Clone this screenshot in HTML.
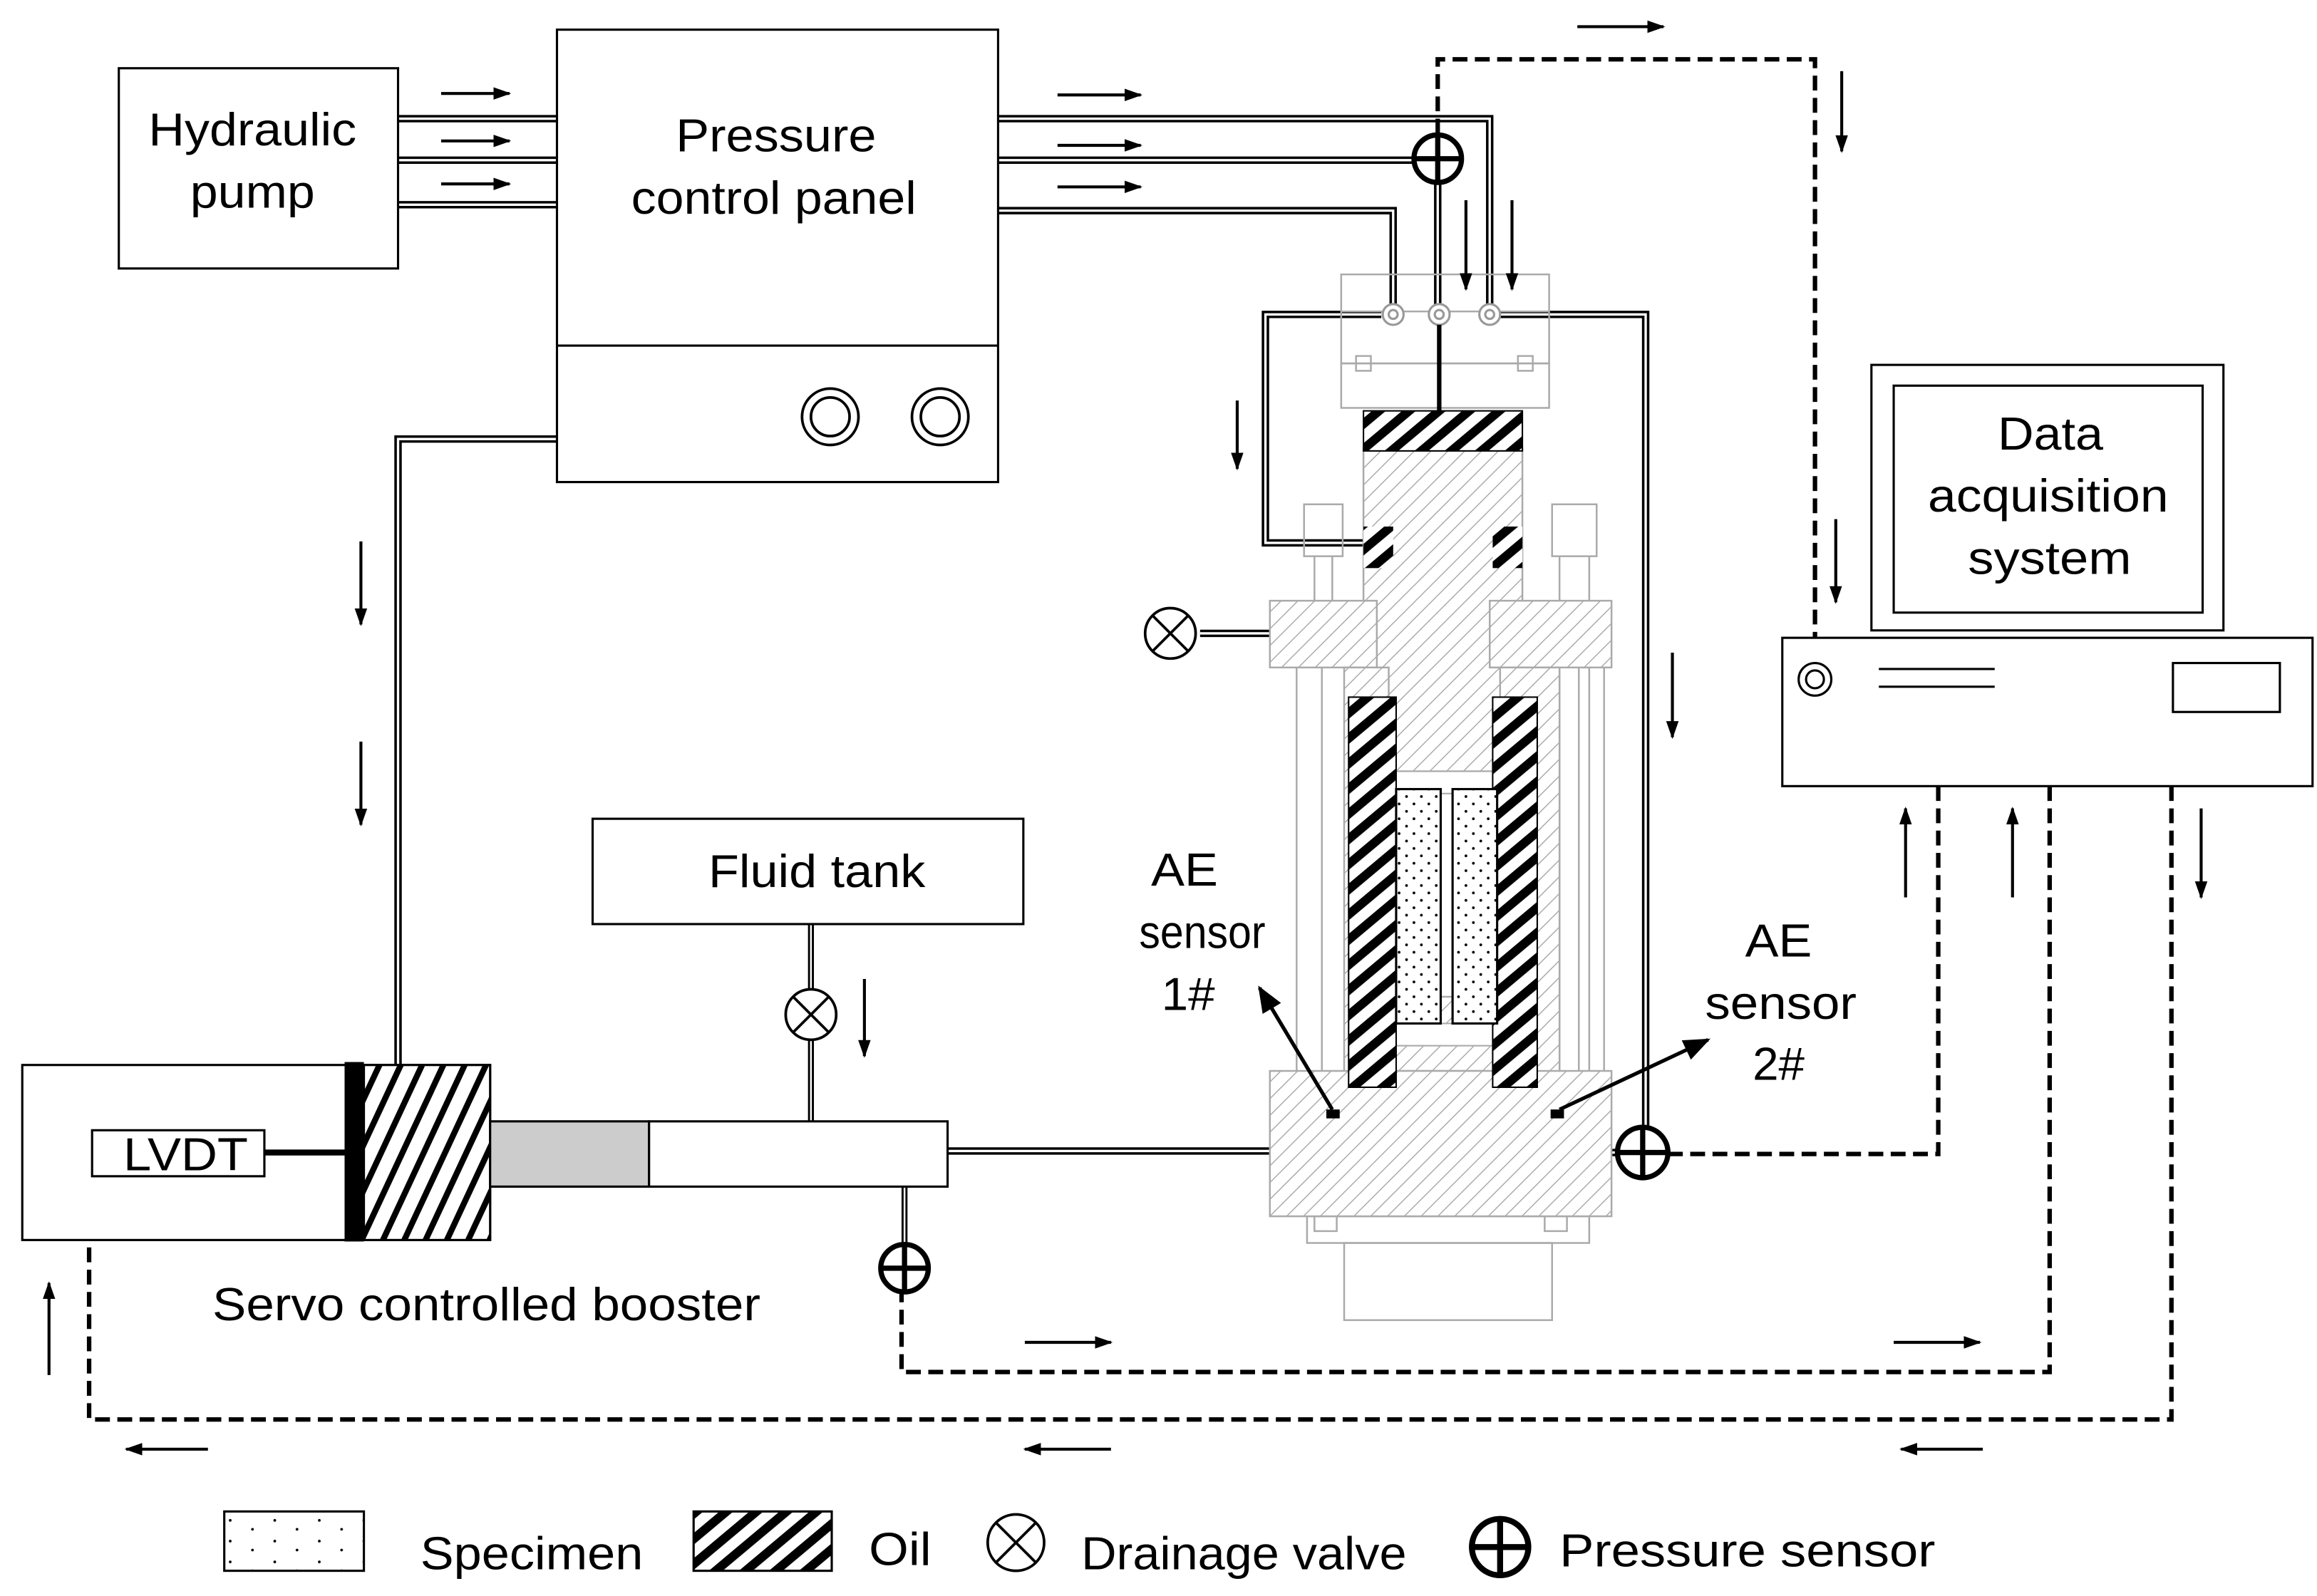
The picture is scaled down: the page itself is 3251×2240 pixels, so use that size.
<!DOCTYPE html>
<html><head><meta charset="utf-8"><style>
html,body{margin:0;padding:0;background:#fff;}
svg{display:block;}
text{font-family:"Liberation Sans",Arial,sans-serif;fill:#000;}
</style></head><body>
<svg width="3251" height="2240" viewBox="0 0 1560 1076" preserveAspectRatio="none" xmlns="http://www.w3.org/2000/svg">
<defs>
<marker id="ah" viewBox="0 0 10 10" refX="9" refY="5" markerWidth="12" markerHeight="12" orient="auto" markerUnits="userSpaceOnUse"><path d="M0,1.5 L10,5 L0,8.5 z" fill="#000"/></marker>
<marker id="ahb" viewBox="0 0 10 10" refX="9" refY="5" markerWidth="18" markerHeight="18" orient="auto" markerUnits="userSpaceOnUse"><path d="M0,1 L10,5 L0,9 z" fill="#000"/></marker>
<pattern id="oil" width="13" height="13" patternUnits="userSpaceOnUse" patternTransform="rotate(50)"><rect width="13" height="13" fill="#fff"/><rect x="0" y="0" width="6" height="13" fill="#000"/></pattern>
<pattern id="thin" width="13" height="13" patternUnits="userSpaceOnUse" patternTransform="rotate(25)"><rect width="13" height="13" fill="#fff"/><rect x="0" y="0" width="4" height="13" fill="#000"/></pattern>
<pattern id="lh" width="8" height="8" patternUnits="userSpaceOnUse" patternTransform="rotate(45)"><rect width="8" height="8" fill="#fff"/><rect x="0" y="0" width="0.7" height="8" fill="#aaa"/></pattern>
<pattern id="dots" width="10" height="10" patternUnits="userSpaceOnUse"><rect width="10" height="10" fill="#fff"/><circle cx="2" cy="2" r="0.9" fill="#000"/><circle cx="7" cy="7" r="0.9" fill="#000"/></pattern>
<pattern id="dots2" width="30" height="14" patternUnits="userSpaceOnUse"><rect width="30" height="14" fill="#fff"/><circle cx="5" cy="3" r="0.9" fill="#000"/><circle cx="20" cy="9" r="0.9" fill="#000"/></pattern>
</defs>
<rect width="1560" height="1076" fill="#fff"/>

<g fill="none" stroke-linejoin="miter">
<g stroke="#000" stroke-width="5">
<path d="M268,80 H375 M268,108 H375 M268,138 H375"/>
<path d="M672,80 H1003 V210 M672,108 H968 V210 M672,142 H938 V205"/>
<path d="M375,296 H268 V720"/>
<path d="M930,212 H852 V366 H920"/>
<path d="M1010,212 H1108 V777"/>
<path d="M808,427 H925 V470"/>
<path d="M638,776 H975 V690"/>
<path d="M1017,700 V777 H1090"/>
</g>
<g stroke="#fff" stroke-width="1.6">
<path d="M268,80 H375 M268,108 H375 M268,138 H375"/>
<path d="M672,80 H1003 V210 M672,108 H968 V210 M672,142 H938 V205"/>
<path d="M375,296 H268 V720"/>
<path d="M930,212 H852 V366 H920"/>
<path d="M1010,212 H1108 V777"/>
<path d="M808,427 H925 V470"/>
<path d="M638,776 H975 V690"/>
<path d="M1017,700 V777 H1090"/>
</g>
<path d="M546,623 V756 M609,800 V838" stroke="#000" stroke-width="4"/>
<path d="M546,623 V756 M609,800 V838" stroke="#fff" stroke-width="1.2"/>
</g>

<rect x="80" y="46" width="188" height="135" fill="#fff" stroke="#000" stroke-width="1.5"/>
<text x="100" y="98" font-size="31" textLength="140" lengthAdjust="spacingAndGlyphs">Hydraulic</text>
<text x="128" y="140" font-size="31" textLength="84" lengthAdjust="spacingAndGlyphs">pump</text>
<rect x="375" y="20" width="297" height="305" fill="#fff" stroke="#000" stroke-width="1.5"/>
<line x1="375" y1="233" x2="672" y2="233" stroke="#000" stroke-width="1.5"/>
<text x="455" y="102" font-size="31" textLength="135" lengthAdjust="spacingAndGlyphs">Pressure</text>
<text x="425" y="144" font-size="31" textLength="192" lengthAdjust="spacingAndGlyphs">control panel</text>
<g fill="none" stroke="#000" stroke-width="1.8">
<circle cx="559" cy="281" r="19"/><circle cx="559" cy="281" r="13"/>
<circle cx="633" cy="281" r="19"/><circle cx="633" cy="281" r="13"/>
</g>

<g fill="none" stroke="#aaa" stroke-width="1.2">
<rect x="903" y="185" width="140" height="60"/>
<line x1="903" y1="210" x2="1043" y2="210"/>
<rect x="913" y="240" width="10" height="10"/><rect x="1022" y="240" width="10" height="10"/>
<rect x="903" y="245" width="140" height="30"/>
<rect x="878" y="340" width="26" height="35"/><rect x="1045" y="340" width="30" height="35"/>
<line x1="885" y1="375" x2="885" y2="420"/><line x1="897" y1="375" x2="897" y2="420"/>
<line x1="1050" y1="375" x2="1050" y2="780"/><line x1="1070" y1="375" x2="1070" y2="780"/>
<line x1="873" y1="450" x2="873" y2="760"/><line x1="890" y1="450" x2="890" y2="760"/>
<line x1="1063" y1="450" x2="1063" y2="760"/><line x1="1080" y1="450" x2="1080" y2="760"/>
<rect x="880" y="820" width="190" height="18"/>
<rect x="905" y="838" width="140" height="52"/>
<rect x="885" y="805" width="15" height="25"/><rect x="1040" y="805" width="15" height="25"/>
</g>
<rect x="918" y="302" width="107" height="218" fill="url(#lh)" stroke="#aaa" stroke-width="1.2"/>
<rect x="855" y="405" width="72" height="45" fill="url(#lh)" stroke="#aaa" stroke-width="1.2"/>
<rect x="1003" y="405" width="82" height="45" fill="url(#lh)" stroke="#aaa" stroke-width="1.2"/>
<rect x="905" y="450" width="30" height="310" fill="url(#lh)" stroke="#aaa" stroke-width="1.2"/>
<rect x="1010" y="450" width="40" height="310" fill="url(#lh)" stroke="#aaa" stroke-width="1.2"/>
<rect x="938" y="672" width="70" height="50" fill="url(#lh)" stroke="#aaa" stroke-width="1.2"/>
<rect x="855" y="722" width="230" height="98" fill="url(#lh)" stroke="#aaa" stroke-width="1.2"/>
<rect x="940" y="520" width="68" height="15" fill="#fff" stroke="#aaa" stroke-width="1"/>
<rect x="940" y="690" width="68" height="15" fill="#fff" stroke="#aaa" stroke-width="1"/>
<rect x="918" y="277" width="107" height="27" fill="url(#oil)" stroke="#000" stroke-width="1"/>
<rect x="918" y="355" width="20" height="28" fill="url(#oil)"/>
<rect x="1005" y="355" width="20" height="28" fill="url(#oil)"/>
<rect x="908" y="470" width="32" height="263" fill="url(#oil)" stroke="#000" stroke-width="1"/>
<rect x="1005" y="470" width="30" height="263" fill="url(#oil)" stroke="#000" stroke-width="1"/>
<rect x="940" y="532" width="30" height="158" fill="url(#dots)" stroke="#000" stroke-width="1.5"/>
<rect x="978" y="532" width="30" height="158" fill="url(#dots)" stroke="#000" stroke-width="1.5"/>
<g fill="#fff" stroke="#999" stroke-width="1.5">
<circle cx="938" cy="212" r="7"/><circle cx="969" cy="212" r="7"/><circle cx="1003" cy="212" r="7"/>
<circle cx="938" cy="212" r="3"/><circle cx="969" cy="212" r="3"/><circle cx="1003" cy="212" r="3"/>
</g>
<line x1="969" y1="219" x2="969" y2="277" stroke="#000" stroke-width="3"/>
<rect x="893" y="748" width="9" height="6" fill="#000"/>
<rect x="1044" y="748" width="9" height="6" fill="#000"/>
<line x1="897" y1="748" x2="848" y2="666" stroke="#000" stroke-width="2.5" marker-end="url(#ahb)"/>
<line x1="1050" y1="748" x2="1150" y2="701" stroke="#000" stroke-width="2.5" marker-end="url(#ahb)"/>
<text x="775" y="597" font-size="31" textLength="45" lengthAdjust="spacingAndGlyphs">AE</text>
<text x="767" y="639" font-size="31" textLength="85" lengthAdjust="spacingAndGlyphs">sensor</text>
<text x="782" y="681" font-size="31" textLength="36" lengthAdjust="spacingAndGlyphs">1#</text>
<text x="1175" y="645" font-size="31" textLength="45" lengthAdjust="spacingAndGlyphs">AE</text>
<text x="1148" y="687" font-size="31" textLength="102" lengthAdjust="spacingAndGlyphs">sensor</text>
<text x="1180" y="728" font-size="31" textLength="35" lengthAdjust="spacingAndGlyphs">2#</text>

<rect x="1260" y="246" width="237" height="179" fill="#fff" stroke="#000" stroke-width="1.5"/>
<rect x="1275" y="260" width="208" height="153" fill="#fff" stroke="#000" stroke-width="1.5"/>
<text x="1345" y="303" font-size="31" textLength="71" lengthAdjust="spacingAndGlyphs">Data</text>
<text x="1298" y="345" font-size="31" textLength="162" lengthAdjust="spacingAndGlyphs">acquisition</text>
<text x="1325" y="387" font-size="31" textLength="110" lengthAdjust="spacingAndGlyphs">system</text>
<rect x="1200" y="430" width="357" height="100" fill="#fff" stroke="#000" stroke-width="1.5"/>
<circle cx="1222" cy="458" r="11" fill="none" stroke="#000" stroke-width="1.5"/>
<circle cx="1222" cy="458" r="6" fill="none" stroke="#000" stroke-width="1.5"/>
<line x1="1265" y1="451" x2="1343" y2="451" stroke="#000" stroke-width="1.5"/>
<line x1="1265" y1="463" x2="1343" y2="463" stroke="#000" stroke-width="1.5"/>
<rect x="1463" y="447" width="72" height="33" fill="none" stroke="#000" stroke-width="1.5"/>

<g fill="none" stroke="#000" stroke-width="3" stroke-dasharray="10 5">
<path d="M968,90 V40 H1222 V430"/>
<path d="M1305,530 V778 H1123"/>
<path d="M1380,530 V925 H607 V872"/>
<path d="M1462,530 V957 H60 V838"/>
</g>

<g fill="#fff" stroke="#000" stroke-width="3.5">
<circle cx="968" cy="107" r="16"/><line x1="952" y1="107" x2="984" y2="107"/><line x1="968" y1="91" x2="968" y2="123"/>
<circle cx="1106" cy="777" r="17"/><line x1="1089" y1="777" x2="1123" y2="777"/><line x1="1106" y1="760" x2="1106" y2="794"/>
<circle cx="609" cy="855" r="16"/><line x1="593" y1="855" x2="625" y2="855"/><line x1="609" y1="839" x2="609" y2="871"/>
</g>
<g fill="#fff" stroke="#000" stroke-width="1.8">
<circle cx="788" cy="427" r="17"/><line x1="776" y1="415" x2="800" y2="439"/><line x1="800" y1="415" x2="776" y2="439"/>
<circle cx="546" cy="684" r="17"/><line x1="534" y1="672" x2="558" y2="696"/><line x1="558" y1="672" x2="534" y2="696"/>
</g>

<rect x="399" y="552" width="290" height="71" fill="#fff" stroke="#000" stroke-width="1.5"/>
<text x="477" y="598" font-size="31" textLength="146" lengthAdjust="spacingAndGlyphs">Fluid tank</text>

<rect x="15" y="718" width="315" height="118" fill="#fff" stroke="#000" stroke-width="1.5"/>
<rect x="62" y="762" width="116" height="31" fill="#fff" stroke="#000" stroke-width="1.5"/>
<text x="83" y="789" font-size="31" textLength="84" lengthAdjust="spacingAndGlyphs">LVDT</text>
<line x1="178" y1="777" x2="235" y2="777" stroke="#000" stroke-width="4"/>
<rect x="245" y="718" width="85" height="118" fill="url(#thin)" stroke="#000" stroke-width="1.5"/>
<rect x="232" y="716" width="13" height="121" fill="#000"/>
<rect x="330" y="756" width="107" height="44" fill="#ccc" stroke="#000" stroke-width="1.5"/>
<rect x="437" y="756" width="201" height="44" fill="#fff" stroke="#000" stroke-width="1.5"/>
<text x="143" y="890" font-size="31" textLength="369" lengthAdjust="spacingAndGlyphs">Servo controlled booster</text>

<g stroke="#000" stroke-width="2" marker-end="url(#ah)">
<line x1="297" y1="63" x2="343" y2="63"/><line x1="297" y1="95" x2="343" y2="95"/><line x1="297" y1="124" x2="343" y2="124"/>
<line x1="712" y1="64" x2="768" y2="64"/><line x1="712" y1="98" x2="768" y2="98"/><line x1="712" y1="126" x2="768" y2="126"/>
<line x1="1062" y1="18" x2="1120" y2="18"/>
<line x1="1240" y1="48" x2="1240" y2="102"/>
<line x1="987" y1="135" x2="987" y2="195"/><line x1="1018" y1="135" x2="1018" y2="195"/>
<line x1="833" y1="270" x2="833" y2="316"/>
<line x1="1126" y1="440" x2="1126" y2="497"/>
<line x1="1236" y1="350" x2="1236" y2="406"/>
<line x1="243" y1="365" x2="243" y2="421"/><line x1="243" y1="500" x2="243" y2="556"/>
<line x1="582" y1="660" x2="582" y2="712"/>
<line x1="1283" y1="605" x2="1283" y2="545"/><line x1="1355" y1="605" x2="1355" y2="545"/>
<line x1="1482" y1="545" x2="1482" y2="605"/>
<line x1="690" y1="905" x2="748" y2="905"/><line x1="1275" y1="905" x2="1333" y2="905"/>
<line x1="140" y1="977" x2="85" y2="977"/><line x1="748" y1="977" x2="690" y2="977"/><line x1="1335" y1="977" x2="1280" y2="977"/>
<line x1="33" y1="927" x2="33" y2="865"/>
</g>

<rect x="151" y="1019" width="94" height="40" fill="url(#dots2)" stroke="#000" stroke-width="1.5"/>
<text x="283" y="1058" font-size="31" textLength="150" lengthAdjust="spacingAndGlyphs">Specimen</text>
<rect x="467" y="1019" width="93" height="40" fill="url(#oil)" stroke="#000" stroke-width="1.5"/>
<text x="585" y="1055" font-size="31" textLength="42" lengthAdjust="spacingAndGlyphs">Oil</text>
<g fill="none" stroke="#000" stroke-width="1.8">
<circle cx="684" cy="1040" r="19"/><line x1="671" y1="1027" x2="697" y2="1053"/><line x1="697" y1="1027" x2="671" y2="1053"/>
</g>
<text x="728" y="1058" font-size="31" textLength="219" lengthAdjust="spacingAndGlyphs">Drainage valve</text>
<g fill="none" stroke="#000" stroke-width="4">
<circle cx="1010" cy="1043" r="19"/><line x1="991" y1="1043" x2="1029" y2="1043"/><line x1="1010" y1="1024" x2="1010" y2="1062"/>
</g>
<text x="1050" y="1056" font-size="31" textLength="253" lengthAdjust="spacingAndGlyphs">Pressure sensor</text>
</svg>
</body></html>
